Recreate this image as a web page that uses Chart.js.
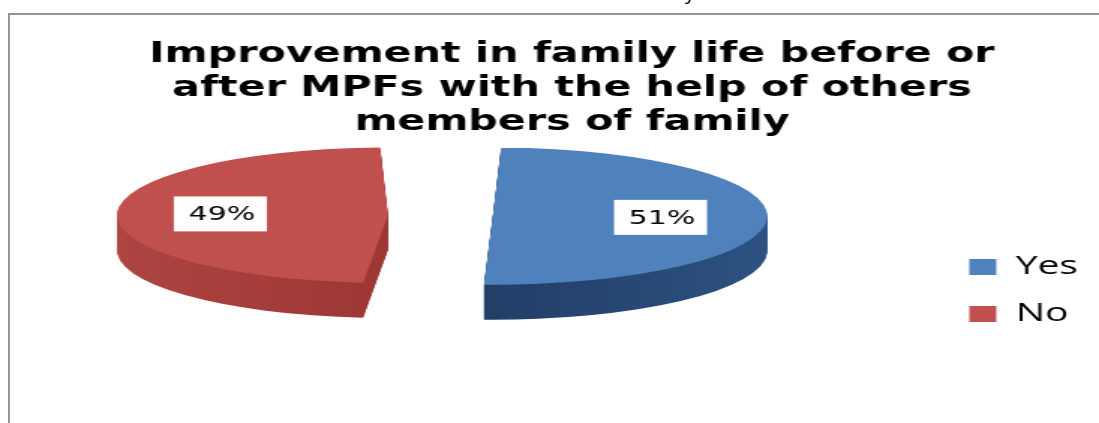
<!DOCTYPE html>
<html lang="en">
<head>
<meta charset="UTF-8">
<title>Improvement in family life before or after MPFs</title>
<script src="https://cdn.jsdelivr.net/npm/chart.js"></script>
<style>
    html, body { margin: 0; padding: 0; background: #fff; overflow: hidden; }
    .page { position: relative; width: 1099px; height: 423px; overflow: hidden; }
    .frame {
        position: absolute; left: 8px; top: 13px; width: 1200px; height: 500px;
        border-top: 2px solid #969696; border-left: 2px solid #969696;
    }
    .cut { position: absolute; left: 685px; top: -18px; font: 20px 'Open Sans', sans-serif; line-height: 20px; color: #000; }
    #familyChart { position: absolute; left: 0; top: 0; }
</style>
</head>
<body>
<div class="page">
    <div class="cut">y</div>
    <div class="frame"></div>
    <!-- drawn narrow and shown wide, like the stretched office chart -->
    <canvas id="familyChart" width="733" height="423" style="width:1099px;height:423px"></canvas>
</div>

<script>
    const categories = ['Yes', 'No'];
    const responses = [51, 49];
    const sliceColors = ['#4f81bd', '#c0504d'];
    const wallColors = [['#223f68', '#2f5586'], ['#b14845', '#9c3734']];
    const titleLines = [
        'Improvement in family life before or',
        'after MPFs with the help of others',
        'members of family'
    ];

    // lay the pie flat: squash y, keep the top rim on the chart area top
    function project(ctx, chart, arc, opts, drop) {
        const rim = arc.outerRadius + (arc.options.offset || 0) / 4;
        const px = arc.x + opts.offsetX;
        const py = chart.chartArea.top + rim * opts.tilt;
        ctx.translate(px, py + drop);
        ctx.scale(1, opts.tilt);
        ctx.translate(-arc.x, -arc.y);
    }

    const pie3d = {
        id: 'pie3d',
        beforeDatasetsDraw(chart, args, opts) {
            const ctx = chart.ctx;
            const arcs = chart.getDatasetMeta(0).data;
            // side walls: each arc redrawn a pixel lower at a time in a darker shade
            arcs.forEach((arc, i) => {
                const mid = (arc.startAngle + arc.endAngle) / 2;
                const reach = arc.outerRadius + (arc.options.offset || 0) / 2;
                const x0 = arc.x + Math.min(0, Math.cos(mid)) * reach;
                const x1 = arc.x + Math.max(0, Math.cos(mid)) * reach;
                const saved = arc.options;
                for (let d = opts.depth; d > 0; d--) {
                    ctx.save();
                    project(ctx, chart, arc, opts, d);
                    const grad = ctx.createLinearGradient(x0, 0, x1, 0);
                    grad.addColorStop(0, opts.walls[i][0]);
                    grad.addColorStop(1, opts.walls[i][1]);
                    arc.options = Object.assign({}, saved, { backgroundColor: grad });
                    arc.draw(ctx);
                    arc.options = saved;
                    ctx.restore();
                }
            });
            // top faces are drawn by the library inside this transform
            ctx.save();
            project(ctx, chart, arcs[0], opts, 0);
        },
        afterDatasetsDraw(chart, args, opts) {
            const ctx = chart.ctx;
            ctx.restore();
            const meta = chart.getDatasetMeta(0);
            const values = chart.data.datasets[0].data;
            const total = values.reduce((a, b) => a + b, 0);
            meta.data.forEach((arc, i) => {
                const p = arc.tooltipPosition();
                const wx = (p.x - arc.x) * opts.labelReach;
                const wy = (p.y - arc.y) * opts.labelReach;
                const rim = arc.outerRadius + (arc.options.offset || 0) / 4;
                const x = arc.x + opts.offsetX + wx;
                const y = chart.chartArea.top + rim * opts.tilt + wy * opts.tilt;
                const text = Math.round(values[i] / total * 100) + '%';
                ctx.save();
                ctx.fillStyle = '#fff';
                ctx.fillRect(x - opts.boxWidth / 2, y - opts.boxHeight / 2, opts.boxWidth, opts.boxHeight);
                ctx.font = '20px "DejaVu Sans"';
                ctx.fillStyle = '#000';
                ctx.textAlign = 'center';
                ctx.textBaseline = 'middle';
                ctx.fillText(text, x + 1, y + 1);
                ctx.restore();
            });
        }
    };

    const ctx = document.getElementById('familyChart').getContext('2d');
    const chart = new Chart(ctx, {
        type: 'pie',
        data: {
            labels: categories,
            datasets: [{
                data: responses,
                backgroundColor: sliceColors,
                borderWidth: 0,
                offset: 140,
                clip: false
            }]
        },
        options: {
            responsive: false,
            devicePixelRatio: 1,
            animation: false,
            events: [],
            radius: 148,
            layout: { padding: { top: 0, left: 34, right: 4, bottom: 75 } },
            plugins: {
                title: {
                    display: true,
                    text: titleLines,
                    color: '#000',
                    font: { family: 'DejaVu Sans', weight: 'bold', size: 27.5, lineHeight: '34px' },
                    padding: { top: 38, bottom: 7 }
                },
                legend: {
                    position: 'right',
                    align: 'end',
                    fullSize: false,
                    labels: {
                        color: '#000',
                        boxWidth: 18,
                        boxHeight: 16,
                        padding: 21,
                        font: { family: 'Open Sans', size: 26 }
                    }
                },
                tooltip: { enabled: false },
                pie3d: {
                    tilt: 0.375,
                    depth: 35,
                    offsetX: -36,
                    labelReach: 1.02,
                    boxWidth: 62,
                    boxHeight: 35,
                    walls: wallColors
                }
            }
        },
        plugins: [pie3d]
    });
</script>
</body>
</html>
